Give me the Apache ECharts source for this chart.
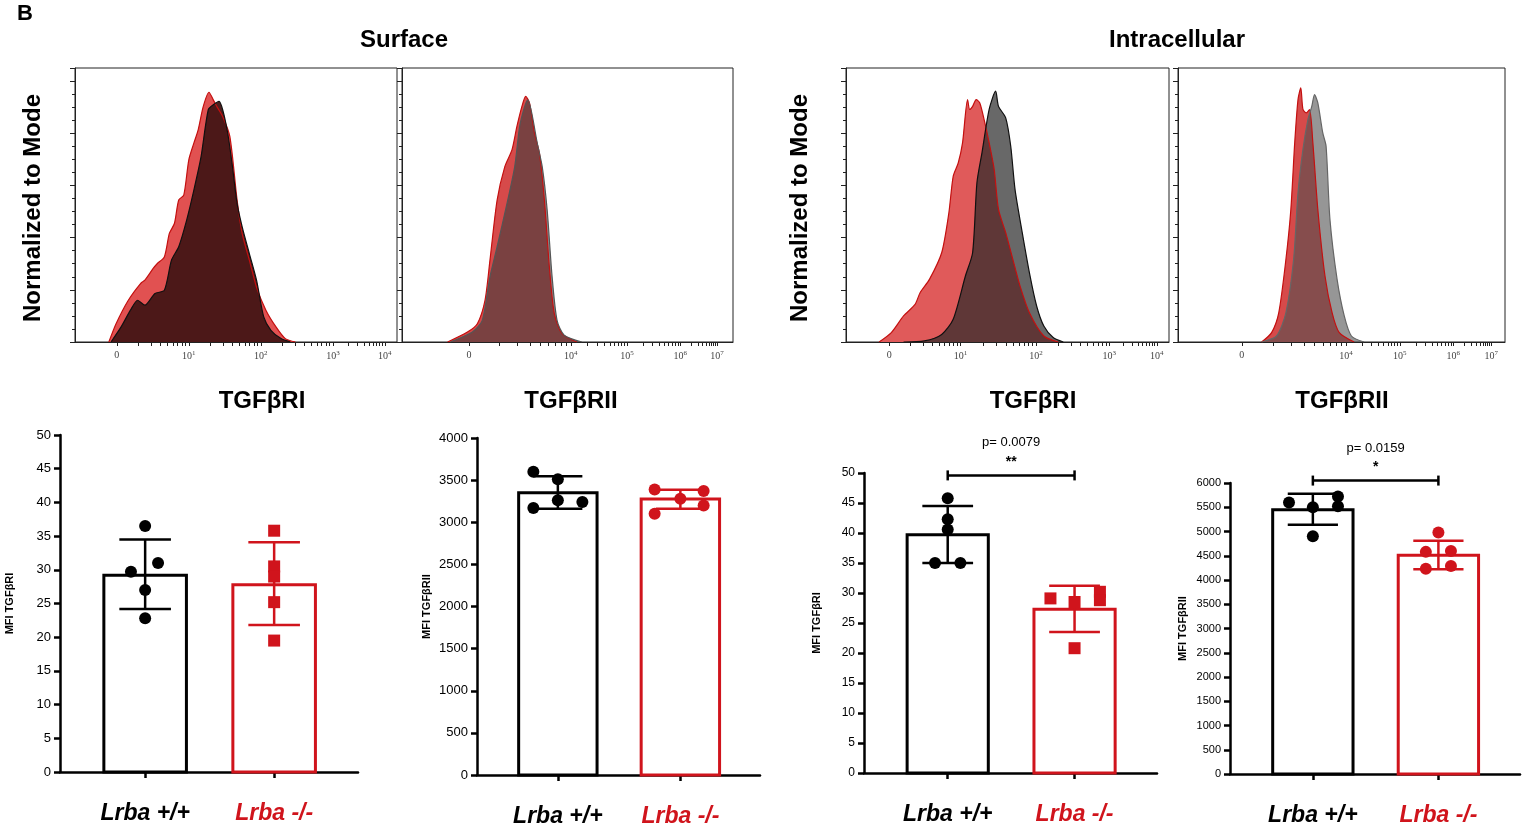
<!DOCTYPE html>
<html>
<head>
<meta charset="utf-8">
<script src="https://cdn.jsdelivr.net/npm/echarts@6/dist/echarts.min.js"></script>
<style>html,body{margin:0;padding:0;background:#fff}#c{width:1523px;height:828px}</style>
</head>
<body>
<div id="c"></div>
<script>
// ---- histogram curves (x in display units: 0 = "0", 1 unit ~ one decade step on screen) ----
const h1RedX = [-0.11,-0.01,0.16,0.33,0.39,0.50,0.56,0.66,0.73,0.80,0.86,0.93,1.00,1.07,1.13,1.20,1.28,1.34,1.39,1.47,1.57,1.67,1.74,1.84,1.94,2.07,2.21,2.34,2.48]
const h1RedY = [0,7,16,22.4,23.7,28,30,32.6,41.6,45.4,54.4,56.3,69.8,76.2,81.3,90.2,95.7,92.8,90.2,86.4,78.7,54.4,41.6,31.4,21,12.2,5.8,1.3,0]
const h1DarkX = [-0.08,0.06,0.19,0.29,0.39,0.53,0.66,0.76,0.86,0.97,1.07,1.17,1.27,1.34,1.42,1.47,1.54,1.60,1.67,1.74,1.84,1.94,2.04,2.14,2.28,2.41]
const h1DarkY = [0,5.8,12.2,16,14.1,18.6,19.8,31.4,36.5,46.7,58.2,71,89,90.9,92.2,89,80,68.5,53.1,44.2,33.9,23.7,9.6,4.5,1.3,0]

const h2RedX = [-0.39,-0.03,0.15,0.29,0.38,0.51,0.65,0.78,0.87,0.96,1.03,1.10,1.19,1.28,1.37,1.46,1.55,1.69,1.96]
const h2RedY = [0,3.8,7,16,31.4,54.4,67.2,73.6,82.6,90.2,94.1,91.5,80,72.3,54.4,28.8,10.9,3.2,0]
const h2GrayX = [-0.34,0.06,0.24,0.38,0.51,0.69,0.83,0.92,1.01,1.07,1.14,1.24,1.33,1.42,1.51,1.60,1.73,2.05]
const h2GrayY = [0,3.8,8.3,25,36.5,53.1,67.2,82.6,90.2,92.8,87.7,76.2,67.2,50.6,25,8.3,2.6,0]

const h3RedX = [-0.14,0.03,0.20,0.36,0.43,0.56,0.73,0.83,0.89,0.96,1.02,1.09,1.12,1.16,1.21,1.26,1.32,1.39,1.46,1.52,1.62,1.72,1.82,1.95,2.15,2.35]
const h3RedY = [0,3.6,10,14.4,18.9,24,34.2,49.5,63.5,68.6,76.3,92.9,89.1,90.3,92.9,91.6,85.2,76.3,66.1,50.8,41.9,31.6,21.4,11.2,2.3,0]
const h3GrayX = [0.20,0.49,0.73,0.89,1.06,1.16,1.22,1.29,1.39,1.48,1.52,1.62,1.69,1.75,1.85,1.95,2.05,2.15,2.28,2.42]
const h3GrayY = [0,0.4,2.9,8.7,25.3,34.2,61,72.5,89.1,96.1,90.3,85.9,75,58.4,41.9,26.5,13.8,6.1,1.7,0]

const h4RedX = [0.36,0.54,0.67,0.80,0.89,0.96,1.02,1.07,1.11,1.17,1.23,1.29,1.38,1.51,1.64,1.77,2.04]
const h4RedY = [0,3.6,11.2,31.6,50.8,76.3,92.9,97.4,89.1,87.8,89.1,76.3,50.8,25.3,11.2,3.6,0]
const h4GrayX = [0.36,0.63,0.80,0.94,1.02,1.11,1.20,1.27,1.32,1.38,1.47,1.53,1.60,1.73,1.86,1.99,2.22]
const h4GrayY = [0,2.3,11.2,31.6,57.2,73.8,85.2,90.3,94.8,91.6,80.1,75,47,24,10,2.3,0]

// tick label positions (display units) and texts
const h1Ticks = [0, 1, 2, 3, 3.72]
const h1Labels = ['0', '10{s|1}', '10{s|2}', '10{s|3}', '10{s|4}']
const h2Ticks = [0, 1.85, 2.87, 3.84, 4.51]
const h2Labels = ['0', '10{s|4}', '10{s|5}', '10{s|6}', '10{s|7}']
const h3Ticks = [0, 0.99, 2.04, 3.06, 3.72]
const h4Ticks = [0, 1.89, 2.87, 3.84, 4.53]

// ---- bar charts ----
const groups = ['Lrba +/+', 'Lrba -/-']
const b1Mean = [29.2, 27.8], b1Lo = [24.2, 21.8], b1Hi = [34.5, 34.1]
const b1WtX = [0, -0.11, 0.1, 0, 0], b1WtY = [36.5, 29.7, 31, 27, 22.8]
const b1KoX = [1, 1, 1, 1, 1], b1KoY = [35.8, 30.5, 29, 25.2, 19.5]

const b2Mean = [3350, 3275], b2Lo = [3160, 3160], b2Hi = [3545, 3385]
const b2WtX = [-0.2, 0, 0, 0.2, -0.2], b2WtY = [3600, 3510, 3260, 3240, 3170]
const b2KoX = [0.79, 1.19, 1, 1.19, 0.79], b2KoY = [3390, 3370, 3280, 3200, 3100]

const b3Mean = [39.7, 27.3], b3Lo = [35, 23.5], b3Hi = [44.5, 31.2]
const b3WtX = [0, 0, 0, -0.1, 0.1], b3WtY = [45.8, 42.3, 40.6, 35, 35]
const b3KoX = [0.81, 1, 1.2, 1.2, 1], b3KoY = [29.1, 28.5, 30.2, 28.8, 20.8]

const b4Mean = [5450, 4510], b4Lo = [5140, 4220], b4Hi = [5780, 4810]
const b4WtX = [-0.19, 0, 0.2, 0.2, 0], b4WtY = [5600, 5500, 5720, 5520, 4900]
const b4KoX = [1, 0.9, 1.1, 0.9, 1.1], b4KoY = [4980, 4580, 4600, 4230, 4290]

const RED = '#d0141c'
const FONT = 'Liberation Sans'

function pairs(xs, ys) { return xs.map((x, i) => [x, ys[i]]) }

// log-like minor ticks inside each decade step
function minorTicks(ticks) {
  let out = []
  for (let i = 0; i < ticks.length - 1; i++) {
    let a = ticks[i], L = ticks[i + 1] - a
    for (let k = 1; k < 10; k++) out.push(a + L * Math.log10(k))
  }
  out.push(ticks[ticks.length - 1])
  return out
}

const grids = [
  {left: 75, top: 68, width: 322, height: 274},
  {left: 402, top: 68, width: 331, height: 274},
  {left: 846, top: 68, width: 323, height: 274},
  {left: 1178, top: 68, width: 327, height: 274},
  {left: 60, top: 435, width: 298, height: 337},
  {left: 477, top: 438, width: 283, height: 337},
  {left: 864, top: 473, width: 293, height: 300},
  {left: 1230, top: 483, width: 290, height: 291}
]
grids.slice(0, 4).forEach(g => { g.show = true; g.borderColor = '#222'; g.borderWidth = 1 })

function histX(idx, min, max, ticks, labels) {
  return {
    type: 'value', gridIndex: idx, min: min, max: max,
    axisLine: {show: true, onZero: false, lineStyle: {color: '#222', width: 1}},
    splitLine: {show: false},
    axisTick: {show: true, customValues: minorTicks(ticks), length: 4, lineStyle: {color: '#222'}},
    axisLabel: {
      customValues: ticks, margin: 8, color: '#444', fontFamily: 'Liberation Serif', fontSize: 10,
      formatter: v => { let i = ticks.findIndex(t => Math.abs(t - v) < 1e-6); return i >= 0 ? labels[i] : '' },
      rich: {s: {fontSize: 7, verticalAlign: 'top', padding: [0, 0, 6, 0], color: '#444', fontFamily: 'Liberation Serif'}}
    }
  }
}
function histY(idx) {
  return {
    type: 'value', gridIndex: idx, min: 0, max: 105, interval: 20,
    axisLine: {show: true, onZero: false, lineStyle: {color: '#222'}},
    axisTick: {show: true, length: 5, lineStyle: {color: '#222'}},
    minorTick: {show: true, splitNumber: 4, length: 3, lineStyle: {color: '#222'}},
    axisLabel: {show: false}, splitLine: {show: false}
  }
}
function barX(idx) {
  return {
    type: 'value', gridIndex: idx, min: -0.66, max: 1.65,
    axisLine: {show: true, onZero: false, lineStyle: {color: '#000', width: 2.5}},
    splitLine: {show: false},
    axisTick: {show: true, customValues: [0, 1], length: 6, lineStyle: {width: 2.5, color: '#000'}},
    axisLabel: {
      customValues: [0, 1], margin: 30, fontFamily: FONT, fontSize: 23, fontWeight: 'bold', fontStyle: 'italic',
      formatter: v => v < 0.5 ? '{a|' + groups[0] + '}' : '{b|' + groups[1] + '}',
      rich: {
        a: {color: '#000', fontFamily: FONT, fontSize: 23, fontWeight: 'bold', fontStyle: 'italic'},
        b: {color: RED, fontFamily: FONT, fontSize: 23, fontWeight: 'bold', fontStyle: 'italic'}
      }
    }
  }
}
function barY(idx, max, interval, name, fs) {
  return {
    type: 'value', gridIndex: idx, min: 0, max: max, interval: interval,
    name: name, nameLocation: 'middle', nameGap: fs > 12 ? 45 : 42,
    nameTextStyle: {fontFamily: FONT, fontWeight: 'bold', fontSize: 11, color: '#000'},
    axisLine: {show: true, onZero: false, lineStyle: {color: '#000', width: 2.5}},
    axisTick: {show: true, length: 6, lineStyle: {width: 2.5, color: '#000'}},
    axisLabel: {fontFamily: FONT, fontSize: fs, color: '#000', margin: 9, formatter: v => String(v)},
    splitLine: {show: false}
  }
}

function histSeries(idx, xs, ys, fill, line) {
  return {
    type: 'line', xAxisIndex: idx, yAxisIndex: idx, data: pairs(xs, ys), symbol: 'none', smooth: 0.25,
    lineStyle: {color: line, width: 1.2}, areaStyle: {color: fill, opacity: 1}, z: 2
  }
}

const BW = 0.64
function barSeries(idx, means) {
  return {
    type: 'custom', xAxisIndex: idx, yAxisIndex: idx, data: means.map((m, i) => [i, m]),
    renderItem: (params, api) => {
      let i = api.value(0)
      let p0 = api.coord([i - BW / 2, api.value(1)]), p1 = api.coord([i + BW / 2, 0])
      return {type: 'rect', shape: {x: p0[0], y: p0[1], width: p1[0] - p0[0], height: p1[1] - p0[1]},
        style: {fill: '#fff', stroke: i === 0 ? '#000' : RED, lineWidth: 3}}
    }, z: 2
  }
}
function errSeries(idx, lo, hi) {
  return {
    type: 'custom', xAxisIndex: idx, yAxisIndex: idx, data: lo.map((l, i) => [i, l, hi[i]]),
    renderItem: (params, api) => {
      let i = api.value(0), c = i === 0 ? '#000' : RED
      let a = api.coord([i, api.value(1)]), b = api.coord([i, api.value(2)])
      let w = api.size([0.4, 0])[0] / 2
      let st = {stroke: c, lineWidth: 2.5}
      return {type: 'group', children: [
        {type: 'line', shape: {x1: a[0], y1: a[1], x2: b[0], y2: b[1]}, style: st},
        {type: 'line', shape: {x1: a[0] - w, y1: a[1], x2: a[0] + w, y2: a[1]}, style: st},
        {type: 'line', shape: {x1: b[0] - w, y1: b[1], x2: b[0] + w, y2: b[1]}, style: st}
      ]}
    }, z: 3
  }
}
function ptSeries(idx, xs, ys, color, symbol) {
  return {type: 'scatter', xAxisIndex: idx, yAxisIndex: idx, data: pairs(xs, ys), symbol: symbol,
    symbolSize: 12, itemStyle: {color: color, opacity: 1}, z: 4}
}
function sigSeries(idx, yVal, stars, ptext) {
  return {
    type: 'custom', xAxisIndex: idx, yAxisIndex: idx, data: [[0, 1, yVal]], clip: false,
    renderItem: (params, api) => {
      let a = api.coord([api.value(0), api.value(2)]), b = api.coord([api.value(1), api.value(2)])
      let st = {stroke: '#000', lineWidth: 2.5}
      let mx = (a[0] + b[0]) / 2
      return {type: 'group', children: [
        {type: 'line', shape: {x1: a[0], y1: a[1], x2: b[0], y2: b[1]}, style: st},
        {type: 'line', shape: {x1: a[0], y1: a[1] - 5, x2: a[0], y2: a[1] + 5}, style: st},
        {type: 'line', shape: {x1: b[0], y1: b[1] - 5, x2: b[0], y2: b[1] + 5}, style: st},
        {type: 'text', style: {text: stars, x: mx, y: a[1] - 6, align: 'center', verticalAlign: 'bottom', font: 'bold 14px ' + FONT, fill: '#000'}},
        {type: 'text', style: {text: ptext, x: mx, y: a[1] - 26, align: 'center', verticalAlign: 'bottom', font: '13px ' + FONT, fill: '#000'}}
      ]}
    }, z: 5
  }
}

const txt = (t, x, y, size, extra) => Object.assign({type: 'text', x: x, y: y,
  style: {text: t, font: 'bold ' + size + 'px ' + FONT, fill: '#000', align: 'center', verticalAlign: 'middle'}}, extra || {})

const option = {
  animation: false,
  grid: grids,
  xAxis: [
    histX(0, -0.58, 3.89, h1Ticks, h1Labels),
    histX(1, -1.22, 4.8, h2Ticks, h2Labels),
    histX(2, -0.6, 3.89, h3Ticks, h1Labels),
    histX(3, -1.16, 4.78, h4Ticks, h2Labels),
    barX(4), barX(5), barX(6), barX(7)
  ],
  yAxis: [
    histY(0), histY(1), histY(2), histY(3),
    barY(4, 50, 5, 'MFI TGFβRI', 13),
    barY(5, 4000, 500, 'MFI TGFβRII', 13),
    barY(6, 50, 5, 'MFI TGFβRI', 12),
    barY(7, 6000, 500, 'MFI TGFβRII', 11)
  ],
  series: [
    histSeries(0, h1RedX, h1RedY, 'rgba(222,62,62,0.9)', '#c41010'),
    histSeries(0, h1DarkX, h1DarkY, 'rgba(70,22,22,0.96)', '#111'),
    histSeries(1, h2RedX, h2RedY, '#d64a4a', '#c41010'),
    histSeries(1, h2GrayX, h2GrayY, 'rgba(60,60,60,0.6)', '#555'),
    histSeries(2, h3RedX, h3RedY, 'rgba(224,90,90,1)', '#c41010'),
    histSeries(2, h3GrayX, h3GrayY, 'rgba(40,40,40,0.7)', '#111'),
    histSeries(3, h4RedX, h4RedY, '#d64a4a', '#c41010'),
    histSeries(3, h4GrayX, h4GrayY, 'rgba(80,80,80,0.6)', '#666'),

    barSeries(4, b1Mean), errSeries(4, b1Lo, b1Hi),
    ptSeries(4, b1WtX, b1WtY, '#000', 'circle'), ptSeries(4, b1KoX, b1KoY, RED, 'rect'),
    barSeries(5, b2Mean), errSeries(5, b2Lo, b2Hi),
    ptSeries(5, b2WtX, b2WtY, '#000', 'circle'), ptSeries(5, b2KoX, b2KoY, RED, 'circle'),
    barSeries(6, b3Mean), errSeries(6, b3Lo, b3Hi),
    ptSeries(6, b3WtX, b3WtY, '#000', 'circle'), ptSeries(6, b3KoX, b3KoY, RED, 'rect'),
    sigSeries(6, 49.6, '**', 'p= 0.0079'),
    barSeries(7, b4Mean), errSeries(7, b4Lo, b4Hi),
    ptSeries(7, b4WtX, b4WtY, '#000', 'circle'), ptSeries(7, b4KoX, b4KoY, RED, 'circle'),
    sigSeries(7, 6050, '*', 'p= 0.0159')
  ],
  graphic: [
    txt('B', 25, 14, 22),
    txt('Surface', 404, 40, 24),
    txt('Intracellular', 1177, 40, 24),
    txt('Normalized to Mode', 33, 208, 24, {rotation: Math.PI / 2}),
    txt('Normalized to Mode', 800, 208, 24, {rotation: Math.PI / 2}),
    txt('TGFβRI', 262, 401, 24),
    txt('TGFβRII', 571, 401, 24),
    txt('TGFβRI', 1033, 401, 24),
    txt('TGFβRII', 1342, 401, 24)
  ]
}

const chart = echarts.init(document.getElementById('c'))
chart.setOption(option)
</script>
</body>
</html>
